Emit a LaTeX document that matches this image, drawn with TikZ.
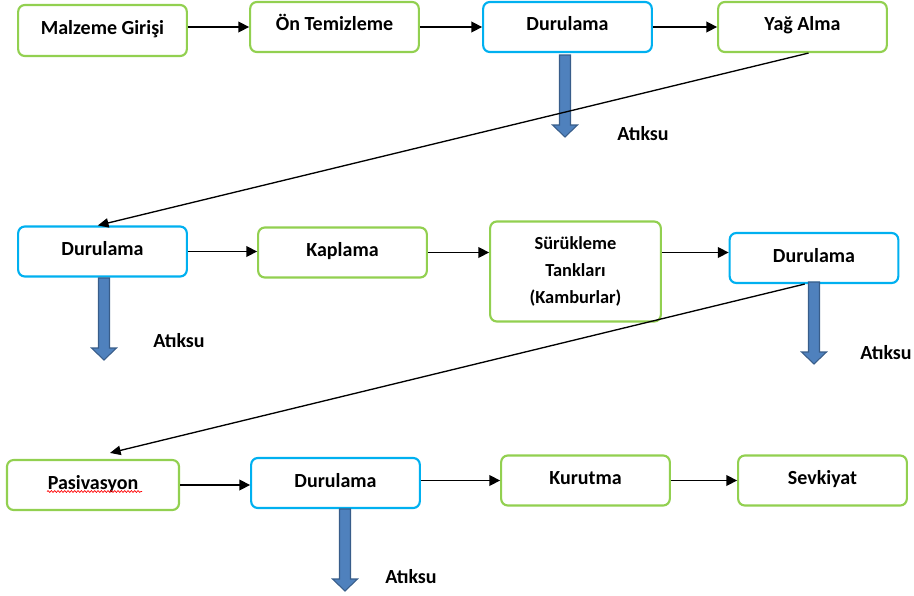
\documentclass[tikz,border=0pt]{standalone}
\usepackage{fontspec}
\setmainfont{Carlito}
\usepackage{tikz}
\usetikzlibrary{arrows.meta,calc,decorations.pathmorphing}
\definecolor{yesil}{HTML}{92D050}
\definecolor{mavi}{HTML}{00B0F0}
\definecolor{atikdolgu}{HTML}{4F81BD}
\definecolor{atikkenar}{HTML}{385D8A}
\definecolor{yazim}{HTML}{FF0000}
\tikzset{
  kututaban/.style={rectangle,rounded corners=5pt,draw=yesil,fill=white,line width=1.6pt,minimum width=126.5pt,minimum height=37.5pt,inner sep=0pt,align=center,font=\fontsize{15}{18}\selectfont\bfseries},
  kutu/.style={kututaban,text height=10.5pt,text depth=4.5pt},
  kutumavi/.style={kutu,draw=mavi},
  ok/.style={draw=black,line width=1.1pt,-{Triangle[length=8pt,width=8pt]}},
  capraz/.style={draw=black,line width=1pt,-{Triangle[length=8pt,width=7pt]}},
  atik/.style={fill=atikdolgu,draw=atikkenar,line width=0.8pt,line join=miter},
  etiket/.style={inner sep=0pt,font=\fontsize{15}{18}\selectfont\bfseries},
  imla/.style={draw=yazim,line width=0.5pt,decorate,decoration={snake,amplitude=0.7pt,segment length=2.5pt}},
}
\newcommand{\atikok}[2]{\filldraw[atik] ($(#1)+(-5.5,0)$) -- ++(11,0) -- ++(0,#2) -- ++(7,0) -- ++(-12.5,12) -- ++(-12.5,-12) -- ++(7,0) -- cycle;}

\begin{document}
\begin{tikzpicture}[x=0.75pt,y=-0.75pt]
\useasboundingbox (0,0) rectangle (914,596);
% satir 1
\node[kutu,minimum height=38.25pt] (giris) at (102.5,30.5) {Malzeme Girişi};
\node[kutu] (ontemiz) at (334.5,27) {Ön Temizleme};
\node[kutumavi] (durula) at (567.5,27) {Durulama};
\node[kutu] (yag) at (802.5,27) {Yağ Alma};
\draw[ok] (giris.east |- ontemiz.west) -- (ontemiz.west);
\draw[ok] (ontemiz.east) -- (durula.west);
\draw[ok] (durula.east) -- (yag.west);
\coordinate (a1) at (565,55);
\atikok{a1}{70}
\node[etiket] (at1) at (643,134) {Atıksu};
% satir 2
\node[kutumavi] (durulb) at (102.5,251.5) {Durulama};
\node[kutu] (kaplama) at (342.5,252.5) {Kaplama};
\node[kututaban,minimum width=128pt,minimum height=75pt,font=\fontsize{13.8}{20}\selectfont\bfseries] (suruk) at (575.5,271.5) {Sürükleme\\Tankları\\(Kamburlar)};
\node[kutumavi] (durulc) at (814,258) {Durulama};
\draw[capraz] ([xshift=4.5]yag.south) -- ([xshift=-3.5]durulb.north);
\draw[ok] (durulb.east) -- (durulb.east -| kaplama.west);
\draw[ok] (kaplama.east) -- (kaplama.east -| suruk.west);
\draw[ok] (suruk.east |- kaplama.east) -- (kaplama.east -| durulc.west);
\coordinate (a2) at (104,278);
\atikok{a2}{70}
\node[etiket] (at2) at (179,341) {Atıksu};
\coordinate (a3) at (814,282);
\atikok{a3}{70}
\node[etiket] (at3) at (886,353) {Atıksu};
% satir 3
\node[kutu,minimum width=129pt] (pasiv) at (93,485) {Pasivasyon};
\node[kutumavi] (duruld) at (335.5,483) {Durulama};
\node[kutu] (kurut) at (585.5,480.5) {Kurutma};
\node[kutu] (sevk) at (822.5,480.5) {Sevkiyat};
\draw[imla] (47,491.5) -- (142,491.5);
\draw[capraz] ([xshift=-7]durulc.south) -- ([shift={(17,-6)}]pasiv.north);
\draw[ok] (pasiv.east) -- (pasiv.east -| duruld.west);
\draw[ok] (duruld.east |- kurut.west) -- (kurut.west);
\draw[ok] (kurut.east) -- (sevk.west);
\coordinate (a4) at (345,509);
\atikok{a4}{70}
\node[etiket] (at4) at (411,577) {Atıksu};
\end{tikzpicture}
\end{document}
